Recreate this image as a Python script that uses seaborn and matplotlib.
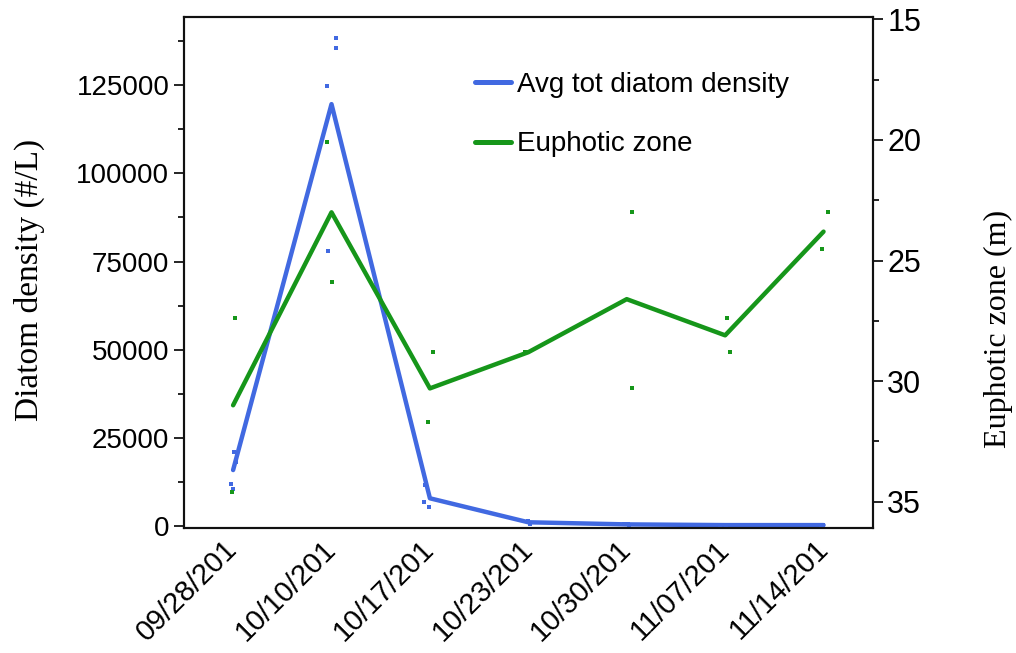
import numpy as np
import pandas as pd
import matplotlib
matplotlib.use('Agg')
import matplotlib.pyplot as plt
from matplotlib.lines import Line2D
from matplotlib.ticker import MultipleLocator
import seaborn as sns


dates = ['09/28/201', '10/10/201', '10/17/201', '10/23/201',
         '10/30/201', '11/07/201', '11/14/201']

# mean lines
avg_density = [15900, 119600, 7900, 1100, 500, 300, 300]
euphotic_avg = [31.0, 23.0, 30.3, 28.8, 26.6, 28.1, 23.8]

# replicate samples
density_dates = (['09/28/201'] * 4 + ['10/10/201'] * 4 + ['10/17/201'] * 3 +
                 ['10/23/201'] * 2 + ['10/30/201'] * 3 + ['11/07/201'] * 2 +
                 ['11/14/201'] * 3)
density_values = [21000, 18200, 11900, 10500,
                  138400, 135500, 124700, 78100,
                  11600, 5400, 6800,
                  1500, 700,
                  600, 400, 500,
                  300, 200,
                  400, 200, 300]

euphotic_dates = [d for d in dates for _ in range(2)]
euphotic_values = [27.4, 34.6, 20.1, 25.9, 28.8, 31.7, 28.8, 28.8,
                   23.0, 30.3, 27.4, 28.8, 23.0, 24.5]

blue = '#4169e1'
green = '#16961a'

sns.set_theme(style='ticks')
plt.rcParams['font.family'] = ['Liberation Sans', 'DejaVu Sans']
plt.rcParams['text.color'] = 'black'
plt.rcParams['axes.labelcolor'] = 'black'
plt.rcParams['xtick.color'] = 'black'
plt.rcParams['ytick.color'] = 'black'

lines_df = pd.DataFrame({'date': dates, 'density': avg_density, 'zone': euphotic_avg})
dens_df = pd.DataFrame({'date': density_dates, 'density': density_values})
zone_df = pd.DataFrame({'date': euphotic_dates, 'zone': euphotic_values})

fig, ax = plt.subplots(figsize=(10.16, 6.53), dpi=100)
fig.subplots_adjust(left=0.181, right=0.859, top=0.974, bottom=0.191)

np.random.seed(3)
sns.stripplot(data=dens_df, x='date', y='density', order=dates, ax=ax,
              color=blue, marker='s', size=2.6, linewidth=0, jitter=0.06)
sns.lineplot(data=lines_df, x='date', y='density', ax=ax, color=blue,
             linewidth=3.2, sort=False)

ax2 = ax.twinx()
sns.stripplot(data=zone_df, x='date', y='zone', order=dates, ax=ax2,
              color=green, marker='s', size=2.6, linewidth=0, jitter=0.06)
sns.lineplot(data=lines_df, x='date', y='zone', ax=ax2, color=green,
             linewidth=3.2, sort=False)

ax.set_xlim(-0.5, 6.5)
ax.set_ylim(-600, 144300)
ax2.set_ylim(36.1, 14.9)

ax.yaxis.set_major_locator(MultipleLocator(25000))
ax.yaxis.set_minor_locator(MultipleLocator(12500))
ax2.yaxis.set_major_locator(MultipleLocator(5))
ax2.yaxis.set_minor_locator(MultipleLocator(2.5))

ax.tick_params(axis='y', which='major', length=7, width=1.2, labelsize=20, colors='black')
ax.tick_params(axis='y', which='minor', length=4, width=1.2, left=True)
ax2.tick_params(axis='y', which='major', length=7, width=1.2, labelsize=22, colors='black')
ax2.tick_params(axis='y', which='minor', length=4, width=1.2, right=True)
ax.tick_params(axis='x', length=0, labelsize=21, pad=12, colors='black')
plt.setp(ax.get_xticklabels(), rotation=45, ha='right', va='center',
         rotation_mode='anchor')

for a in (ax, ax2):
    for s in a.spines.values():
        s.set_visible(True)
        s.set_color('#111111')
        s.set_linewidth(1.5)

ax.set_xlabel('')
ax.set_ylabel('Diatom density (#/L)', fontsize=24, family='Liberation Serif')
ax2.set_ylabel('Euphotic zone (m)', fontsize=23, family='Liberation Serif')
ax.yaxis.set_label_coords(-0.202, 0.485)
ax2.yaxis.set_label_coords(1.162, 0.39)

handles = [Line2D([], [], color=blue, linewidth=3.6),
           Line2D([], [], color=green, linewidth=3.6)]
ax2.legend(handles, ['Avg tot diatom density', 'Euphotic zone'],
           loc='upper left', bbox_to_anchor=(450 / 1016, 1 - 47 / 653),
           bbox_transform=fig.transFigure, frameon=False, fontsize=20,
           handlelength=1.3, handletextpad=0.2, labelspacing=1.2)

plt.savefig('out.png', dpi=100)
